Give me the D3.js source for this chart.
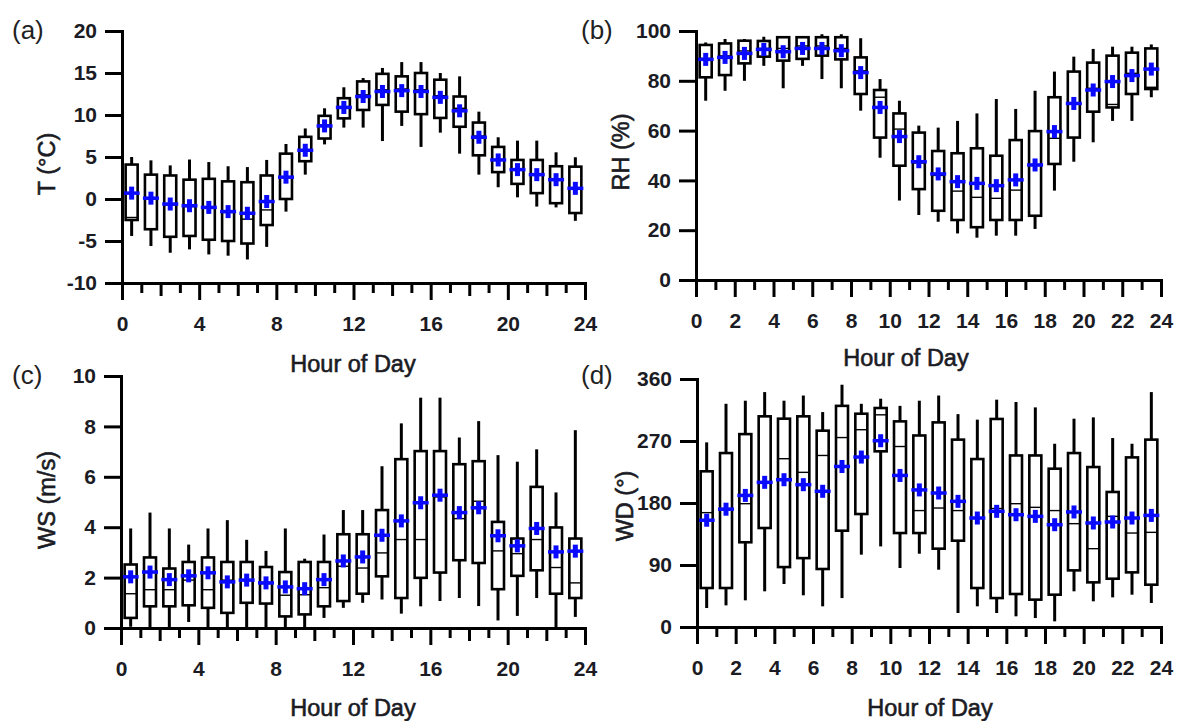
<!DOCTYPE html>
<html lang="en">
<head>
<meta charset="UTF-8">
<title>Diurnal variation - T, RH, WS, WD</title>
<script src="https://d3js.org/d3.v7.min.js"></script>
<style>
  body { margin: 0; background: #fff; }
  svg { display: block; font-family: 'Liberation Sans', Arial, sans-serif; }
  .tick text { font-size: 21px; font-weight: bold; fill: #1b1b24; }
  .axis-title { font-size: 23.5px; fill: #1b1b24; stroke: #1b1b24; stroke-width: 0.6px; }
  .panel-label { font-size: 26px; fill: #222; }
</style>
</head>
<body>
<svg width="1177" height="721"></svg>
<script>
// hour of day (box drawn at hour + 0.5)
const hours = [0, 1, 2, 3, 4, 5, 6, 7, 8, 9, 10, 11, 12, 13, 14, 15, 16, 17, 18, 19, 20, 21, 22, 23];

// (a) temperature, °C
const tLow  = [-4.4, -5.6, -6.4, -6.0, -6.6, -6.75, -7.2, -5.7, -1.5, 2.9, 6.5, 8.5, 8.5, 6.9, 8.7, 6.2, 7.9, 5.4, 2.9, 1.4, 0.2, -0.9, -1.0, -2.6];
const tQ1   = [-2.5, -3.6, -4.5, -4.4, -4.85, -5.0, -5.3, -3.1, 0.0, 4.5, 7.2, 9.6, 10.6, 11.2, 10.4, 10.1, 9.65, 8.6, 5.2, 3.2, 1.8, 0.7, -0.5, -1.67];
const tMed  = [-2.2, 0.0, -0.7, -0.9, -1.1, -1.6, -2.4, -1.3, 2.6, 5.8, 8.8, 11.0, 12.4, 13.0, 13.1, 13.0, 12.3, 10.8, 7.5, 4.7, 3.5, 3.0, 2.4, 1.3];
const tQ3   = [4.1, 2.9, 2.8, 2.3, 2.4, 2.1, 2.0, 2.8, 5.4, 7.4, 9.9, 12.0, 14.0, 14.9, 14.6, 15.0, 14.2, 12.2, 9.1, 6.2, 4.65, 4.65, 3.9, 3.85];
const tHigh = [5.0, 4.6, 4.0, 4.7, 4.4, 3.9, 3.8, 4.65, 6.55, 8.4, 10.8, 13.3, 14.4, 15.6, 16.3, 16.3, 15.0, 14.6, 10.4, 7.35, 6.95, 6.95, 5.56, 4.97];
const tMean = [0.7, 0.1, -0.6, -0.8, -1.0, -1.5, -1.7, -0.3, 2.6, 5.8, 8.7, 10.9, 12.2, 12.8, 12.9, 12.8, 12.1, 10.5, 7.35, 4.65, 3.5, 2.9, 2.3, 1.27];

// (b) relative humidity, %
const rhLow  = [72.0, 76.0, 80.0, 86.0, 77.0, 86.0, 80.7, 77.0, 68.0, 49.1, 31.9, 26.1, 23.4, 18.7, 17.0, 17.8, 17.8, 20.5, 35.9, 47.5, 55.3, 63.9, 63.9, 73.4];
const rhQ1   = [81.4, 82.3, 87.0, 89.7, 88.1, 88.8, 90.1, 88.6, 74.7, 57.2, 45.9, 36.5, 27.8, 24.1, 21.2, 24.1, 24.1, 25.8, 46.6, 57.2, 67.6, 69.3, 74.7, 76.7];
const rhMed  = [89.0, 90.0, 92.0, 93.0, 93.0, 94.0, 94.0, 93.0, 84.0, 73.4, 60.6, 47.0, 42.0, 35.7, 33.2, 32.8, 36.1, 46.0, 56.9, 71.0, 77.0, 70.5, 83.0, 77.4];
const rhQ3   = [94.4, 95.0, 96.1, 96.0, 97.5, 97.5, 97.5, 97.5, 89.4, 76.3, 66.9, 59.2, 51.8, 50.9, 52.9, 49.9, 56.2, 59.8, 73.4, 83.7, 87.3, 90.1, 91.3, 93.0];
const rhHigh = [95.4, 96.8, 96.8, 97.7, 97.7, 98.0, 98.7, 98.7, 97.1, 80.7, 72.0, 62.0, 61.2, 63.9, 66.9, 72.7, 68.7, 76.0, 83.7, 89.7, 92.8, 93.7, 93.7, 94.6];
const rhMean = [88.6, 89.4, 91.0, 92.6, 91.7, 93.0, 93.0, 92.1, 83.3, 69.3, 57.6, 47.5, 42.6, 39.5, 38.8, 37.9, 40.2, 46.2, 59.6, 70.9, 76.3, 79.7, 82.1, 84.7];

// (c) wind speed, m/s
const wsLow  = [0.05, 0.0, 0.04, 0.24, 0.0, 0.0, 0.0, 0.0, 0.0, 0.04, 0.4, 0.8, 1.0, 1.13, 0.57, 0.86, 1.07, 1.19, 0.87, 0.3, 0.48, 1.19, 0.04, 0.44];
const wsQ1   = [0.4, 0.86, 0.86, 0.9, 0.8, 0.6, 1.0, 0.97, 0.46, 0.54, 0.86, 1.07, 1.36, 2.05, 1.19, 1.99, 2.2, 2.69, 2.58, 1.54, 2.07, 2.29, 1.36, 1.19];
const wsMed  = [1.36, 1.52, 1.52, 1.9, 1.52, 1.9, 1.9, 1.76, 1.3, 1.32, 1.6, 2.45, 2.38, 2.98, 3.51, 3.51, 5.2, 4.34, 5.03, 3.06, 2.95, 3.51, 2.4, 1.79];
const wsQ3   = [2.52, 2.8, 2.36, 2.62, 2.8, 2.62, 2.62, 2.42, 2.22, 2.62, 2.62, 3.72, 3.72, 4.68, 6.7, 7.02, 7.02, 6.5, 6.62, 4.21, 3.55, 5.6, 3.99, 3.55];
const wsHigh = [3.95, 4.58, 3.95, 3.31, 3.95, 4.28, 3.5, 3.06, 3.95, 2.75, 3.71, 4.68, 4.68, 6.42, 8.12, 9.14, 9.14, 7.56, 8.21, 6.86, 6.6, 7.09, 5.38, 7.85];
const wsMean = [2.03, 2.22, 1.92, 2.07, 2.19, 1.83, 1.9, 1.79, 1.63, 1.56, 1.92, 2.66, 2.82, 3.68, 4.25, 4.97, 5.27, 4.58, 4.77, 3.66, 3.26, 3.95, 3.02, 3.05];

// (d) wind direction, degrees
const wdLow  = [27.6, 31.4, 38.7, 51.8, 62.4, 46, 30, 42, 105, 117, 85.6, 106.4, 83.2, 20.3, 30, 20.3, 15.5, 13, 8.2, 51.8, 37.3, 43, 46.9, 34.8];
const wdQ1   = [56.6, 56.6, 123, 143.7, 87, 100, 84.2, 139.8, 164, 255, 136.4, 136.4, 113.7, 125.3, 56.6, 42, 47.9, 39.7, 46.9, 82.2, 64.8, 70.1, 79.3, 61.4];
const wdMed  = [166, 172, 179, 210, 244.3, 224.5, 249, 275, 286.4, 308, 262, 169, 172.7, 169, 158, 172, 179, 173.7, 169, 150, 113.7, 160.6, 136.4, 137.4];
const wdQ3   = [226, 252.5, 280, 305.8, 302.4, 305.8, 285, 321, 309.6, 317.9, 298.5, 278, 297, 272, 243.8, 302, 249, 249, 229.8, 252.5, 232.2, 196, 246.2, 272];
const wdHigh = [268, 324, 328.5, 341, 328.5, 336, 312, 351.7, 324, 331.4, 321, 328.5, 336, 309, 301, 330, 326.6, 318.8, 266, 302.4, 304.3, 274.3, 266, 341];
const wdMean = [155, 171, 191, 210, 213.8, 206.6, 197, 233, 246.7, 270.4, 220, 199, 194.5, 182.4, 158.2, 167.9, 163, 160.6, 148.5, 167, 151, 152.4, 158.2, 162];

const xTicks = [0, 1, 2, 3, 4, 5, 6, 7, 8, 9, 10, 11, 12, 13, 14, 15, 16, 17, 18, 19, 20, 21, 22, 23, 24];

const panels = [
  { label: "(a)", labelPos: [12, 39], yTitle: "T (°C)", yTitlePos: [47, 164],
    xTitlePos: [353, 372], xRange: [122, 585], yRange: [283, 31], yDomain: [-10, 20],
    yTicks: [-10, -5, 0, 5, 10, 15, 20], xStep: 4,
    low: tLow, q1: tQ1, med: tMed, q3: tQ3, high: tHigh, mean: tMean },
  { label: "(b)", labelPos: [581, 39], yTitle: "RH (%)", yTitlePos: [621, 152],
    xTitlePos: [906, 366], xRange: [696, 1161], yRange: [280, 31], yDomain: [0, 100],
    yTicks: [0, 20, 40, 60, 80, 100], xStep: 2,
    low: rhLow, q1: rhQ1, med: rhMed, q3: rhQ3, high: rhHigh, mean: rhMean },
  { label: "(c)", labelPos: [12, 384], yTitle: "WS (m/s)", yTitlePos: [47, 500],
    xTitlePos: [353, 716], xRange: [121, 585], yRange: [628, 376], yDomain: [0, 10],
    yTicks: [0, 2, 4, 6, 8, 10], xStep: 4,
    low: wsLow, q1: wsQ1, med: wsMed, q3: wsQ3, high: wsHigh, mean: wsMean },
  { label: "(d)", labelPos: [581, 384], yTitle: "WD (°)", yTitlePos: [625, 506],
    xTitlePos: [930, 716], xRange: [697, 1161], yRange: [627, 379], yDomain: [0, 360],
    yTicks: [0, 90, 180, 270, 360], xStep: 2,
    low: wdLow, q1: wdQ1, med: wdMed, q3: wdQ3, high: wdHigh, mean: wdMean }
];

const svg = d3.select("svg");
const boxW = 12;

panels.forEach(drawPanel);

function drawPanel(p) {
  const x = d3.scaleLinear().domain([0, 24]).range(p.xRange);
  const y = d3.scaleLinear().domain(p.yDomain).range(p.yRange);
  const g = svg.append("g");

  // whiskers
  g.selectAll("line.whisker")
    .data(hours)
    .join("line")
    .attr("class", "whisker")
    .attr("x1", (h) => x(h + 0.5)).attr("x2", (h) => x(h + 0.5))
    .attr("y1", (h, i) => y(p.low[i])).attr("y2", (h, i) => y(p.high[i]))
    .attr("stroke", "#000").attr("stroke-width", 3);

  // boxes
  g.selectAll("rect.box")
    .data(hours)
    .join("rect")
    .attr("class", "box")
    .attr("x", (h) => x(h + 0.5) - boxW / 2)
    .attr("width", boxW)
    .attr("y", (h, i) => y(p.q3[i]))
    .attr("height", (h, i) => y(p.q1[i]) - y(p.q3[i]))
    .attr("fill", "#fff").attr("stroke", "#000").attr("stroke-width", 2.6);

  // medians
  g.selectAll("line.median")
    .data(hours)
    .join("line")
    .attr("class", "median")
    .attr("x1", (h) => x(h + 0.5) - boxW / 2).attr("x2", (h) => x(h + 0.5) + boxW / 2)
    .attr("y1", (h, i) => y(p.med[i])).attr("y2", (h, i) => y(p.med[i]))
    .attr("stroke", "#000").attr("stroke-width", 1.4);

  // means: blue cross
  const mean = g.selectAll("g.mean")
    .data(hours)
    .join("g")
    .attr("class", "mean")
    .attr("transform", (h, i) => `translate(${x(h + 0.5)},${y(p.mean[i])})`);
  mean.append("rect").attr("x", -8).attr("y", -1.75).attr("width", 16).attr("height", 3.5).attr("fill", "#0a0aff");
  mean.append("rect").attr("x", -2.5).attr("y", -6.5).attr("width", 5).attr("height", 13).attr("fill", "#0a0aff");

  // x axis
  const gx = g.append("g")
    .attr("transform", `translate(0,${p.yRange[0]})`)
    .call(d3.axisBottom(x).tickValues(xTicks).tickSizeOuter(0).tickSize(17)
      .tickFormat((d) => (d % p.xStep === 0 ? d : "")));
  gx.selectAll(".tick line")
    .attr("y2", (d) => (d % p.xStep === 0 ? 17 : (d % 2 === 0 ? 13 : 10)));
  gx.selectAll(".tick text").attr("y", 33);

  // y axis
  const gy = g.append("g")
    .attr("transform", `translate(${p.xRange[0]},0)`)
    .call(d3.axisLeft(y).tickValues(p.yTicks).tickSizeOuter(0).tickSize(17).tickPadding(8)
      .tickFormat((d) => String(d)));

  [gx, gy].forEach((ax) => {
    ax.select(".domain").attr("stroke-width", 3).attr("stroke", "#000");
    ax.selectAll(".tick line").attr("stroke-width", 3).attr("stroke", "#000");
    ax.selectAll(".tick text").attr("fill", null);
    ax.attr("font-size", null).attr("font-family", null);
  });

  // titles
  g.append("text")
    .attr("class", "axis-title")
    .attr("x", p.xTitlePos[0]).attr("y", p.xTitlePos[1])
    .attr("text-anchor", "middle")
    .text("Hour of Day");

  g.append("text")
    .attr("class", "axis-title")
    .attr("transform", `translate(${p.yTitlePos[0]},${p.yTitlePos[1]}) rotate(-90)`)
    .attr("text-anchor", "middle")
    .attr("dy", "0.35em")
    .text(p.yTitle);

  g.append("text")
    .attr("class", "panel-label")
    .attr("x", p.labelPos[0]).attr("y", p.labelPos[1])
    .text(p.label);
}
</script>
</body>
</html>
